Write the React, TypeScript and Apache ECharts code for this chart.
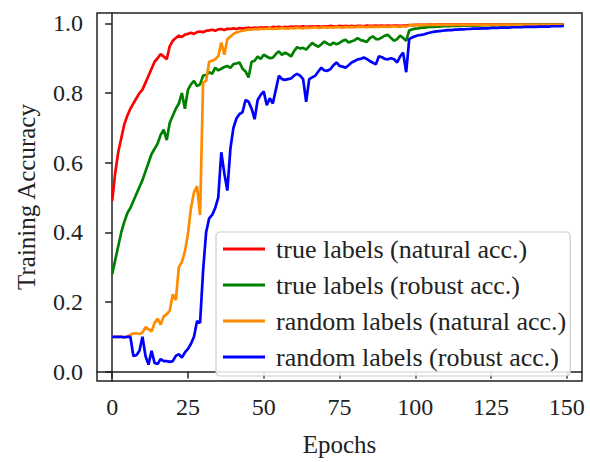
import React, { useEffect, useRef } from "react";
import * as echarts from "echarts";

const seriesNames = [
  "true labels (natural acc.)",
  "true labels (robust acc.)",
  "random labels (natural acc.)",
  "random labels (robust acc.)",
];
const seriesColors = ["#ff0000", "#008000", "#ff8c00", "#0000ff"];

const xTicks = [0, 25, 50, 75, 100, 125, 150];
const yTicks = [0, 0.2, 0.4, 0.6, 0.8, 1.0];

const trueNatural = [
  0.49, 0.57, 0.63, 0.67, 0.71, 0.735, 0.755, 0.77, 0.785, 0.8,
  0.81, 0.83, 0.85, 0.87, 0.89, 0.9, 0.912, 0.905, 0.897, 0.935,
  0.95, 0.958, 0.965, 0.961, 0.968, 0.97, 0.973, 0.97, 0.975, 0.977,
  0.975, 0.979, 0.98, 0.982, 0.979, 0.983, 0.984, 0.981, 0.985, 0.984,
  0.986, 0.984, 0.987, 0.985, 0.987, 0.988, 0.986, 0.988, 0.987, 0.989,
  0.988, 0.989, 0.987, 0.99, 0.989, 0.99, 0.988, 0.99, 0.989, 0.991,
  0.99, 0.991, 0.99, 0.992, 0.99, 0.991, 0.992, 0.991, 0.992, 0.99,
  0.992, 0.991, 0.993, 0.992, 0.991, 0.993, 0.992, 0.993, 0.992, 0.993,
  0.992, 0.993, 0.993, 0.992, 0.994, 0.993, 0.993, 0.994, 0.993, 0.994,
  0.993, 0.994, 0.993, 0.994, 0.994, 0.993, 0.994, 0.994, 0.995, 0.995,
  0.996, 0.996, 0.996, 0.996, 0.996, 0.997, 0.996, 0.997, 0.997, 0.997,
  0.997, 0.997, 0.997, 0.997, 0.997, 0.997, 0.997, 0.997, 0.997, 0.997,
  0.997, 0.997, 0.997, 0.997, 0.997, 0.997, 0.997, 0.997, 0.997, 0.997,
  0.997, 0.997, 0.997, 0.997, 0.997, 0.997, 0.997, 0.997, 0.997, 0.997,
  0.997, 0.997, 0.997, 0.997, 0.997, 0.997, 0.997, 0.997, 0.997, 0.997,
];

const trueRobust = [
  0.28, 0.32, 0.36, 0.4, 0.43, 0.455, 0.47, 0.49, 0.51, 0.53,
  0.55, 0.575, 0.6, 0.625, 0.64, 0.655, 0.68, 0.695, 0.665, 0.715,
  0.735, 0.755, 0.77, 0.8, 0.755, 0.81, 0.825, 0.835, 0.82, 0.825,
  0.85, 0.852, 0.86, 0.855, 0.873, 0.865, 0.87, 0.875, 0.878, 0.872,
  0.883, 0.885, 0.888, 0.87, 0.862, 0.845, 0.89, 0.893, 0.905, 0.898,
  0.91, 0.905, 0.9, 0.902, 0.912, 0.92, 0.91, 0.916, 0.912, 0.905,
  0.92, 0.932, 0.928, 0.93, 0.925, 0.935, 0.944, 0.938, 0.933, 0.94,
  0.948, 0.942, 0.938, 0.945, 0.94, 0.944, 0.95, 0.953, 0.945, 0.949,
  0.952, 0.958, 0.952, 0.95, 0.947, 0.958, 0.963, 0.955, 0.955, 0.96,
  0.965, 0.967, 0.958, 0.95, 0.955, 0.965, 0.958, 0.95, 0.98, 0.983,
  0.985, 0.986, 0.988, 0.988, 0.989, 0.99, 0.99, 0.991, 0.991, 0.992,
  0.992, 0.992, 0.993, 0.993, 0.993, 0.993, 0.994, 0.994, 0.994, 0.994,
  0.994, 0.994, 0.995, 0.995, 0.995, 0.995, 0.995, 0.995, 0.995, 0.995,
  0.995, 0.995, 0.995, 0.995, 0.996, 0.996, 0.996, 0.996, 0.996, 0.996,
  0.996, 0.996, 0.996, 0.996, 0.996, 0.996, 0.996, 0.996, 0.996, 0.996,
];

const randomNatural = [
  0.1, 0.1, 0.1, 0.1, 0.1, 0.1, 0.105, 0.11, 0.11, 0.108,
  0.112, 0.128, 0.122, 0.115, 0.14, 0.152, 0.135, 0.158, 0.165, 0.175,
  0.222, 0.205, 0.3, 0.315, 0.345, 0.395, 0.47, 0.515, 0.533, 0.45,
  0.83, 0.835, 0.89, 0.893, 0.897, 0.906, 0.945, 0.91, 0.955, 0.962,
  0.97, 0.974, 0.977, 0.979, 0.981, 0.983, 0.982, 0.984, 0.983, 0.985,
  0.984, 0.985, 0.986, 0.984, 0.986, 0.985, 0.987, 0.986, 0.985, 0.987,
  0.986, 0.988, 0.987, 0.986, 0.988, 0.987, 0.988, 0.989, 0.987, 0.988,
  0.989, 0.988, 0.989, 0.988, 0.99, 0.989, 0.988, 0.99, 0.989, 0.99,
  0.989, 0.99, 0.991, 0.99, 0.989, 0.991, 0.99, 0.991, 0.99, 0.991,
  0.991, 0.99, 0.991, 0.992, 0.991, 0.99, 0.992, 0.991, 0.994, 0.995,
  0.995, 0.995, 0.995, 0.996, 0.996, 0.996, 0.996, 0.996, 0.996, 0.996,
  0.996, 0.996, 0.996, 0.996, 0.996, 0.996, 0.996, 0.996, 0.996, 0.996,
  0.996, 0.996, 0.996, 0.996, 0.996, 0.996, 0.996, 0.996, 0.996, 0.996,
  0.996, 0.996, 0.996, 0.996, 0.996, 0.996, 0.996, 0.996, 0.996, 0.996,
  0.996, 0.996, 0.996, 0.996, 0.996, 0.996, 0.996, 0.996, 0.996, 0.996,
];

const randomRobust = [
  0.1, 0.1, 0.1, 0.1, 0.098, 0.1, 0.1, 0.045, 0.047, 0.06,
  0.1, 0.045, 0.02, 0.06, 0.025, 0.022, 0.036, 0.03, 0.03, 0.028,
  0.03, 0.045, 0.05, 0.04, 0.055, 0.065, 0.08, 0.1, 0.145, 0.14,
  0.29, 0.4, 0.44, 0.45, 0.47, 0.5, 0.63, 0.57, 0.52, 0.64,
  0.7, 0.727, 0.74, 0.745, 0.78, 0.775, 0.755, 0.725, 0.78, 0.795,
  0.805, 0.765, 0.785, 0.77, 0.81, 0.85, 0.84, 0.838, 0.84, 0.842,
  0.85, 0.855, 0.85, 0.84, 0.775, 0.84, 0.845, 0.85, 0.862, 0.873,
  0.865, 0.864, 0.869, 0.88, 0.888, 0.878, 0.876, 0.873, 0.88, 0.888,
  0.892, 0.897, 0.898, 0.902, 0.898, 0.892, 0.887, 0.883, 0.906, 0.903,
  0.898, 0.897, 0.9, 0.897, 0.888, 0.905, 0.916, 0.86, 0.955, 0.96,
  0.963, 0.966, 0.967, 0.969, 0.972, 0.974, 0.976, 0.977, 0.978, 0.979,
  0.98, 0.981, 0.981, 0.982, 0.982, 0.983, 0.983, 0.984, 0.984, 0.985,
  0.985, 0.985, 0.986, 0.986, 0.986, 0.987, 0.987, 0.987, 0.988, 0.988,
  0.988, 0.988, 0.989, 0.989, 0.989, 0.989, 0.99, 0.99, 0.99, 0.99,
  0.99, 0.991, 0.991, 0.991, 0.991, 0.992, 0.992, 0.992, 0.992, 0.993,
];

const allSeries = [trueNatural, trueRobust, randomNatural, randomRobust];

const FONT = "Liberation Serif";
const INK = "#222";

export default function App() {
  const ref = useRef<HTMLDivElement>(null);

  useEffect(() => {
    if (!ref.current) return;
    const chart = echarts.init(ref.current, undefined, { renderer: "svg" });
    chart.setOption({
      animation: false,
      backgroundColor: "#fff",
      grid: {
        left: 97,
        right: 8,
        top: 13,
        bottom: 75,
        show: true,
        borderColor: INK,
        borderWidth: 1.5,
        backgroundColor: "transparent",
      },
      xAxis: {
        type: "value",
        min: -5,
        max: 155,
        name: "Epochs",
        nameLocation: "middle",
        nameGap: 51,
        nameTextStyle: { fontFamily: FONT, fontSize: 25, color: INK },
        axisLine: { show: true, lineStyle: { color: INK, width: 1.5 } },
        axisTick: {
          show: true,
          length: 7,
          customValues: xTicks,
          lineStyle: { color: INK, width: 1.5 },
        },
        axisLabel: {
          customValues: xTicks,
          margin: 14,
          fontFamily: FONT,
          fontSize: 24,
          color: INK,
        },
        splitLine: { show: false },
      },
      yAxis: {
        type: "value",
        min: -0.027,
        max: 1.03,
        name: "Training Accuracy",
        nameLocation: "middle",
        nameGap: 58,
        nameTextStyle: { fontFamily: FONT, fontSize: 25, color: INK },
        axisLine: { show: true, lineStyle: { color: INK, width: 1.5 } },
        axisTick: {
          show: true,
          length: 7,
          customValues: yTicks,
          lineStyle: { color: INK, width: 1.5 },
        },
        axisLabel: {
          customValues: yTicks,
          margin: 14,
          fontFamily: FONT,
          fontSize: 24,
          color: INK,
          formatter: (v: number) => v.toFixed(1),
        },
        splitLine: { show: false },
      },
      legend: {
        orient: "vertical",
        left: 216,
        top: 232,
        padding: [4, 4, 6, 7],
        itemGap: 10,
        itemWidth: 42,
        itemHeight: 3,
        icon: "rect",
        borderColor: "#cccccc",
        borderWidth: 1.2,
        borderRadius: 4,
        backgroundColor: "rgba(255,255,255,0.85)",
        textStyle: {
          fontFamily: FONT,
          fontSize: 26,
          color: INK,
          padding: [0, 0, 0, 6],
        },
        data: seriesNames,
      },
      series: allSeries.map((vals, i) => ({
        name: seriesNames[i],
        type: "line",
        showSymbol: false,
        symbol: "none",
        color: seriesColors[i],
        lineStyle: { color: seriesColors[i], width: 2.7 },
        data: vals.map((v, e) => [e, v]),
        z: 2 + i,
      })),
    });
    return () => chart.dispose();
  }, []);

  return (
    <div
      ref={ref}
      style={{ position: "fixed", left: 0, top: 0, width: 590, height: 462 }}
    />
  );
}
